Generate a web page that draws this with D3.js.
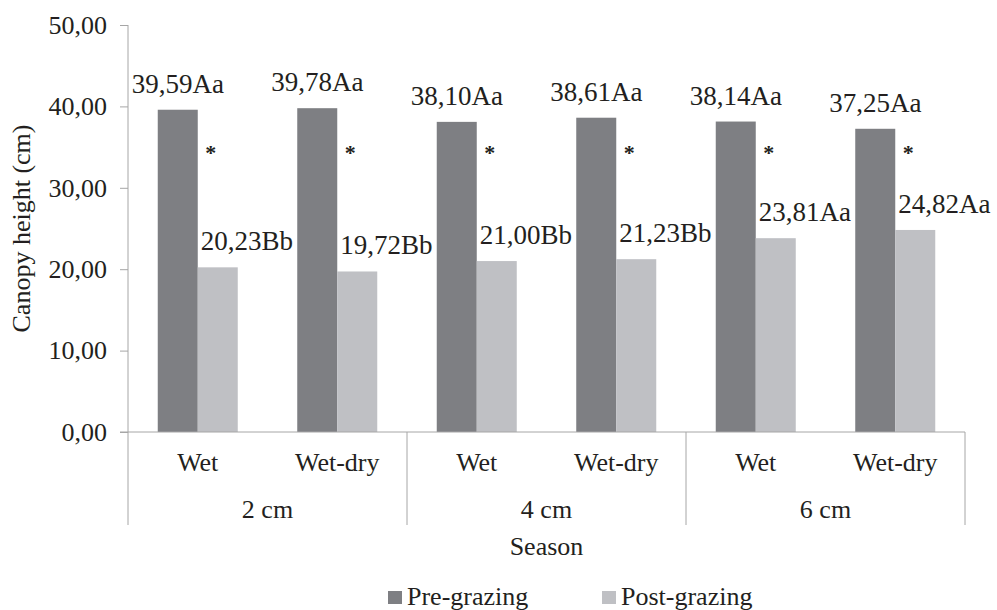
<!DOCTYPE html>
<html>
<head>
<meta charset="utf-8">
<script src="https://cdn.jsdelivr.net/npm/d3@7"></script>
<style>
  body { margin: 0; background: #fff; }
  svg text { font-family: "Liberation Serif" !important; }
</style>
</head>
<body>
<svg id="chart"></svg>
<script>
let width = 997, height = 610;

// data
let groups = ["2 cm", "4 cm", "6 cm"];
let seasons = ["Wet", "Wet-dry"];
let preGrazing = [39.59, 39.78, 38.10, 38.61, 38.14, 37.25];
let postGrazing = [20.23, 19.72, 21.00, 21.23, 23.81, 24.82];
let preLetters = ["Aa", "Aa", "Aa", "Aa", "Aa", "Aa"];
let postLetters = ["Bb", "Bb", "Bb", "Bb", "Aa", "Aa"];
let signif = [true, true, true, true, true, true];
let yTicks = [0, 10, 20, 30, 40, 50];
let seriesNames = ["Pre-grazing", "Post-grazing"];
let colors = ["#7e7f83", "#bfc0c4"];

let svg = d3.select("#chart")
  .attr("width", width)
  .attr("height", height);

let left = 128, right = 965, top_sp = 25, bottom_y = 432;
let fmt = v => v.toFixed(2).replace(".", ",");

// one entry per season column
let rows = [];
groups.forEach((g, gi) => {
  seasons.forEach((s, si) => {
    let i = gi * seasons.length + si;
    rows.push({id: i, group: g, season: s,
      vals: [preGrazing[i], postGrazing[i]],
      letters: [preLetters[i], postLetters[i]],
      star: signif[i]});
  });
});

let yax = d3.scaleLinear()
  .domain([0, 50])
  .range([bottom_y, top_sp]);

let xcat = d3.scaleBand()
  .domain(rows.map(d => d.id))
  .range([left, right])
  .paddingInner(0.4265)
  .paddingOuter(0.4265 / 2);

let xser = d3.scaleBand()
  .domain([0, 1])
  .range([0, xcat.bandwidth()]);

let xgrp = d3.scaleBand()
  .domain(groups)
  .range([left, right]);

// y axis
let yax_draw = d3.axisLeft(yax)
  .tickValues(yTicks)
  .tickSize(8)
  .tickPadding(13)
  .tickFormat(fmt);
let yg = svg.append("g")
  .attr("transform", `translate(${left}, 0)`)
  .call(yax_draw);
yg.attr("font-family", "Liberation Serif");
yg.select(".domain").attr("stroke", "#a6a6a6").attr("d", `M0,${top_sp}V${bottom_y}`);
yg.selectAll(".tick line").attr("stroke", "#a6a6a6");
yg.selectAll(".tick text").attr("font-size", 26);

svg.append("text")
  .text("Canopy height (cm)")
  .attr("text-anchor", "middle")
  .attr("font-size", 26)
  .attr("transform", `translate(30, ${(top_sp + bottom_y) / 2}) rotate(-90)`);

// bars
let cols = svg.append("g").selectAll("g")
  .data(rows)
  .join("g")
  .attr("transform", d => `translate(${xcat(d.id)}, 0)`);

cols.selectAll("rect")
  .data(d => d.vals)
  .join("rect")
  .attr("x", (v, i) => xser(i))
  .attr("y", v => yax(v))
  .attr("width", xser.bandwidth())
  .attr("height", v => yax(0) - yax(v))
  .attr("fill", (v, i) => colors[i]);

// value labels
cols.append("text")
  .text(d => fmt(d.vals[0]) + d.letters[0])
  .attr("x", xser(0) + xser.bandwidth() / 2)
  .attr("y", d => yax(d.vals[0]) - 17)
  .attr("text-anchor", "middle")
  .attr("font-size", 27);

cols.append("text")
  .text(d => fmt(d.vals[1]) + d.letters[1])
  .attr("x", xser(1) + 3)
  .attr("y", d => yax(d.vals[1]) - 17)
  .attr("text-anchor", "start")
  .attr("font-size", 27);

cols.filter(d => d.star).append("text")
  .text("*")
  .attr("x", xser(1) + 13)
  .attr("y", yax(33.4))
  .attr("text-anchor", "middle")
  .attr("font-size", 22)
  .attr("font-weight", "bold");

// category axis
svg.append("line")
  .attr("x1", left - 8).attr("x2", right)
  .attr("y1", bottom_y).attr("y2", bottom_y)
  .attr("stroke", "#a6a6a6");

let seps = [left].concat(groups.map(g => xgrp(g) + xgrp.bandwidth()));
svg.append("g").selectAll("line")
  .data(seps)
  .join("line")
  .attr("x1", d => d).attr("x2", d => d)
  .attr("y1", bottom_y).attr("y2", 525)
  .attr("stroke", "#a6a6a6");

svg.append("g").selectAll("text")
  .data(rows)
  .join("text")
  .text(d => d.season)
  .attr("x", d => xcat(d.id) + xcat.bandwidth() / 2)
  .attr("y", 471)
  .attr("text-anchor", "middle")
  .attr("font-size", 26);

svg.append("g").selectAll("text")
  .data(groups)
  .join("text")
  .text(d => d)
  .attr("x", d => xgrp(d) + xgrp.bandwidth() / 2)
  .attr("y", 518)
  .attr("text-anchor", "middle")
  .attr("font-size", 26);

svg.append("text")
  .text("Season")
  .attr("x", (left + right) / 2)
  .attr("y", 555)
  .attr("text-anchor", "middle")
  .attr("font-size", 26);

// legend
let legX = d3.scalePoint()
  .domain(seriesNames)
  .range([388, 602]);
let leg = svg.append("g").selectAll("g")
  .data(seriesNames)
  .join("g")
  .attr("transform", d => `translate(${legX(d)}, 591)`);
leg.append("rect")
  .attr("width", 14).attr("height", 13)
  .attr("fill", (d, i) => colors[i]);
leg.append("text")
  .text(d => d)
  .attr("x", 19)
  .attr("y", 14)
  .attr("font-size", 26);

// serif on every text
svg.selectAll("text")
  .attr("font-family", "Liberation Serif")
  .style("font-family", '"Liberation Serif"')
  .style("fill", "#231f20");
</script>
</body>
</html>
